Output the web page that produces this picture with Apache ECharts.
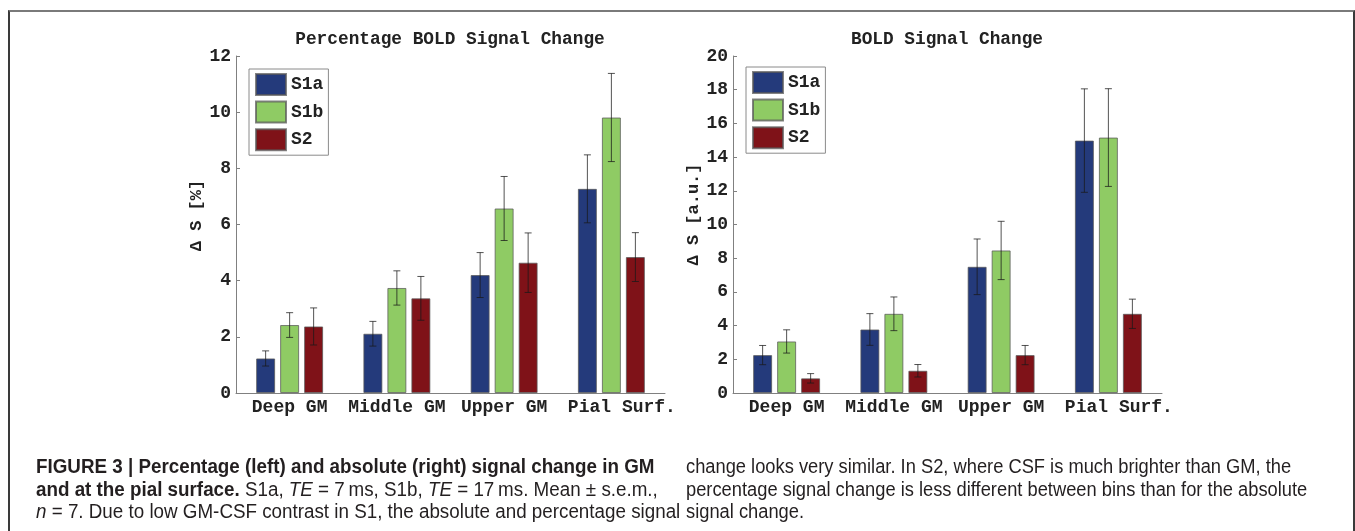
<!DOCTYPE html>
<html>
<head>
<meta charset="utf-8">
<script src="https://cdn.jsdelivr.net/npm/echarts@6/dist/echarts.min.js"></script>
<style>
  html, body { margin: 0; padding: 0; background: #fff; }
  #wrap { position: relative; width: 1355px; height: 531px; overflow: hidden; background: #fff; }
  #frame { position: absolute; left: 8px; top: 10px; width: 1343px; height: 560px;
           border-left: 2px solid #3a3a3a; border-right: 2px solid #3a3a3a; border-top: 2px solid #7a7a7a; }
  #chart { position: absolute; left: 0; top: 0; width: 1355px; height: 531px; }
  .cap { position: absolute; top: 455px; font-family: "Liberation Sans", Arial, sans-serif;
         font-size: 20px; line-height: 22.5px; color: #231f20; white-space: nowrap;
         transform-origin: 0 0; }
  .cap b { font-weight: bold; }
</style>
</head>
<body>
<div id="wrap">
  <div id="frame"></div>
  <div id="chart"></div>
  <div class="cap" id="capL" style="left:36px; transform: scaleX(0.94);">
    <b>FIGURE 3 | Percentage (left) and absolute (right) signal change in GM</b><br>
    <b>and at the pial surface.</b> S1a, <i>TE</i> = 7&#8201;ms, S1b, <i>TE</i> = 17&#8201;ms. Mean ± s.e.m.,<br>
    <i>n</i> = 7. Due to low GM-CSF contrast in S1, the absolute and percentage signal
  </div>
  <div class="cap" id="capR" style="left:686px; transform: scaleX(0.915);">
    change looks very similar. In S2, where CSF is much brighter than GM, the<br>
    percentage signal change is less different between bins than for the absolute<br>
    signal change.
  </div>
</div>
<script>
// ---- data ----
const categories = ['Deep GM', 'Middle GM', 'Upper GM', 'Pial Surf.'];
const seriesNames = ['S1a', 'S1b', 'S2'];

const pctS1a    = [1.23, 2.11, 4.20, 7.27];
const pctS1aErr = [0.27, 0.44, 0.80, 1.21];
const pctS1b    = [2.42, 3.74, 6.57, 9.81];
const pctS1bErr = [0.44, 0.61, 1.14, 1.57];
const pctS2     = [2.37, 3.37, 4.64, 4.84];
const pctS2Err  = [0.66, 0.78, 1.06, 0.87];

const absS1a    = [2.25, 3.77, 7.49, 14.98];
const absS1aErr = [0.57, 0.94, 1.65, 3.07];
const absS1b    = [3.06, 4.70, 8.46, 15.16];
const absS1bErr = [0.69, 1.00, 1.73, 2.90];
const absS2     = [0.87, 1.32, 2.25, 4.70];
const absS2Err  = [0.28, 0.37, 0.57, 0.87];

const pctTicks = { min: 0, max: 12, interval: 2 };
const absTicks = { min: 0, max: 20, interval: 2 };

// ---- styles ----
const colors = ['#243a7b', '#8fcb64', '#7f1218'];
const MONO = '"Liberation Mono", "Courier New", monospace';
const BAR_W = 19, BAR_GAP = 5;
const txt = { fontFamily: MONO, fontWeight: 'bold', fontSize: 18, color: '#222' };

const chart = echarts.init(document.getElementById('chart'), null, { renderer: 'canvas' });

function errSeries(name, vals, errs, k, gi) {
  const data = vals.map((v, i) => [i, v, errs[i]]);
  const offset = (k - 1) * (BAR_W + BAR_GAP);
  return {
    type: 'custom', name: name + ' err', xAxisIndex: gi, yAxisIndex: gi, z: 5,
    silent: true, data: data,
    encode: { x: 0, y: 1 },
    renderItem: function (params, api) {
      const i = api.value(0), v = api.value(1), e = api.value(2);
      const top = api.coord([i, v + e]);
      const bot = api.coord([i, v - e]);
      const x = top[0] + offset;
      const cap = 3.5;
      const st = { stroke: '#1a1a1a', lineWidth: 1, opacity: 0.75 };
      return { type: 'group', children: [
        { type: 'line', shape: { x1: x, y1: top[1], x2: x, y2: bot[1] }, style: st },
        { type: 'line', shape: { x1: x - cap, y1: top[1], x2: x + cap, y2: top[1] }, style: st },
        { type: 'line', shape: { x1: x - cap, y1: bot[1], x2: x + cap, y2: bot[1] }, style: st }
      ]};
    }
  };
}

function barSeries(name, vals, k, gi) {
  return {
    type: 'bar', name: name, xAxisIndex: gi, yAxisIndex: gi, data: vals,
    barWidth: BAR_W, barGap: (BAR_GAP / BAR_W * 100).toFixed(1) + '%',
    itemStyle: { color: colors[k], borderColor: 'rgba(90,90,90,0.75)', borderWidth: 1 },
    emphasis: { disabled: true }
  };
}

function xAx(gi) {
  return { type: 'category', gridIndex: gi, data: categories,
    axisLine: { lineStyle: { color: '#808080', width: 1 } },
    axisTick: { show: false },
    axisLabel: Object.assign({ margin: 5, interval: 0,
      formatter: function (v, i) { return i === categories.length - 1 ? '{s|' + v + '}' : v; },
      rich: { s: Object.assign({ padding: [0, 0, 0, 21] }, txt) }
    }, txt) };
}
function yAx(gi, t, name, shift) {
  return { type: 'value', gridIndex: gi, min: t.min, max: t.max, interval: t.interval,
    name: name, nameLocation: 'middle', nameRotate: 90, nameGap: 29,
    nameTextStyle: { fontFamily: MONO, fontWeight: 'bold', fontSize: 17, color: '#222', padding: [0, 0, 0, shift] },
    axisLine: { show: true, lineStyle: { color: '#808080', width: 1 } },
    axisTick: { show: true, inside: true, length: 4, lineStyle: { color: '#808080' } },
    splitLine: { show: false },
    axisLabel: Object.assign({ margin: 5 }, txt) };
}
function legend(left, top) {
  return { orient: 'vertical', left: left, top: top, data: seriesNames,
    itemWidth: 30, itemHeight: 21, itemGap: 4.6, padding: [4, 5, 4, 6],
    borderColor: '#8a8a8a', borderWidth: 1, backgroundColor: '#fff',
    selectedMode: false, textStyle: txt, icon: 'rect' };
}

const pct = [[pctS1a, pctS1aErr], [pctS1b, pctS1bErr], [pctS2, pctS2Err]];
const abs = [[absS1a, absS1aErr], [absS1b, absS1bErr], [absS2, absS2Err]];
const series = [];
[pct, abs].forEach((set, gi) => {
  set.forEach((s, k) => series.push(barSeries(seriesNames[k], s[0], k, gi)));
  set.forEach((s, k) => series.push(errSeries(seriesNames[k], s[0], s[1], k, gi)));
});

const titleStyle = { fontFamily: MONO, fontWeight: 'bold', fontSize: 17.8, color: '#222' };
chart.setOption({
  animation: false,
  backgroundColor: 'transparent',
  title: [
    { text: 'Percentage BOLD Signal Change', left: 450, top: 31, padding: 0, textAlign: 'center', textStyle: titleStyle },
    { text: 'BOLD Signal Change', left: 947, top: 31, padding: 0, textAlign: 'center', textStyle: titleStyle }
  ],
  grid: [
    { left: 236, top: 56, width: 429, height: 337 },
    { left: 733, top: 56, width: 429, height: 337 }
  ],
  legend: [legend(249, 69), legend(746, 67)],
  xAxis: [xAx(0), xAx(1)],
  yAxis: [yAx(0, pctTicks, 'Δ S [%]', 18), yAx(1, absTicks, 'Δ S [a.u.]', 20)],
  series: series
});
</script>
</body>
</html>
